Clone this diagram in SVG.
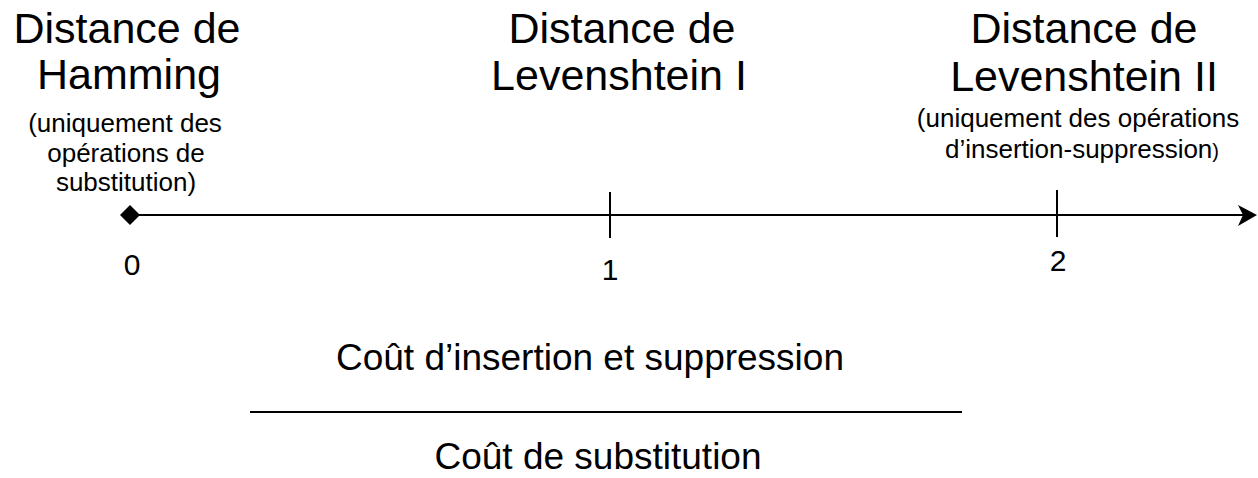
<svg xmlns="http://www.w3.org/2000/svg" width="1258" height="478" viewBox="0 0 1258 478">
<style>
text{font-family:"Liberation Sans",Arial,sans-serif;fill:#000;text-anchor:middle}
.t{font-size:43px}
.s{font-size:26px}
.n{font-size:30px}
.b{font-size:37px}
.ln{stroke:#000;stroke-width:2;fill:none}
</style>
<rect width="1258" height="478" fill="#fff"/>
<g id="connectors">
<line class="ln" x1="130" y1="215" x2="1246" y2="215"/>
<polygon points="1257,215 1238,205 1243,215 1238,226" fill="#000"/>
<polygon points="130,205 140,215 130,225 120,215" fill="#000"/>
<line class="ln" x1="610" y1="192" x2="610" y2="238"/>
<line class="ln" x1="1057" y1="190" x2="1057" y2="237"/>
</g>
<g id="hamming">
<text class="t" x="127" y="43">Distance de</text>
<text class="t" x="129" y="89">Hamming</text>
<text class="s" x="125" y="132">(uniquement des</text>
<text class="s" x="126" y="162">opérations de</text>
<text class="s" x="126" y="191">substitution)</text>
</g>
<g id="lev1">
<text class="t" x="622" y="43">Distance de</text>
<text class="t" x="619" y="90">Levenshtein I</text>
</g>
<g id="lev2">
<text class="t" x="1084" y="43">Distance de</text>
<text class="t" x="1084" y="91">Levenshtein II</text>
<text class="s" x="1078" y="127">(uniquement des opérations</text>
<text class="s" x="1082" y="158">d’insertion-suppression<tspan font-size="20">)</tspan></text>
</g>
<g id="labels">
<text class="n" x="132" y="275">0</text>
<text class="n" x="610" y="280">1</text>
<text class="n" x="1058" y="271">2</text>
</g>
<g id="ratio">
<text class="b" x="590" y="370">Coût d’insertion et suppression</text>
<line class="ln" x1="250" y1="412" x2="962" y2="412"/>
<text class="b" x="598" y="469">Coût de substitution</text>
</g>
</svg>
